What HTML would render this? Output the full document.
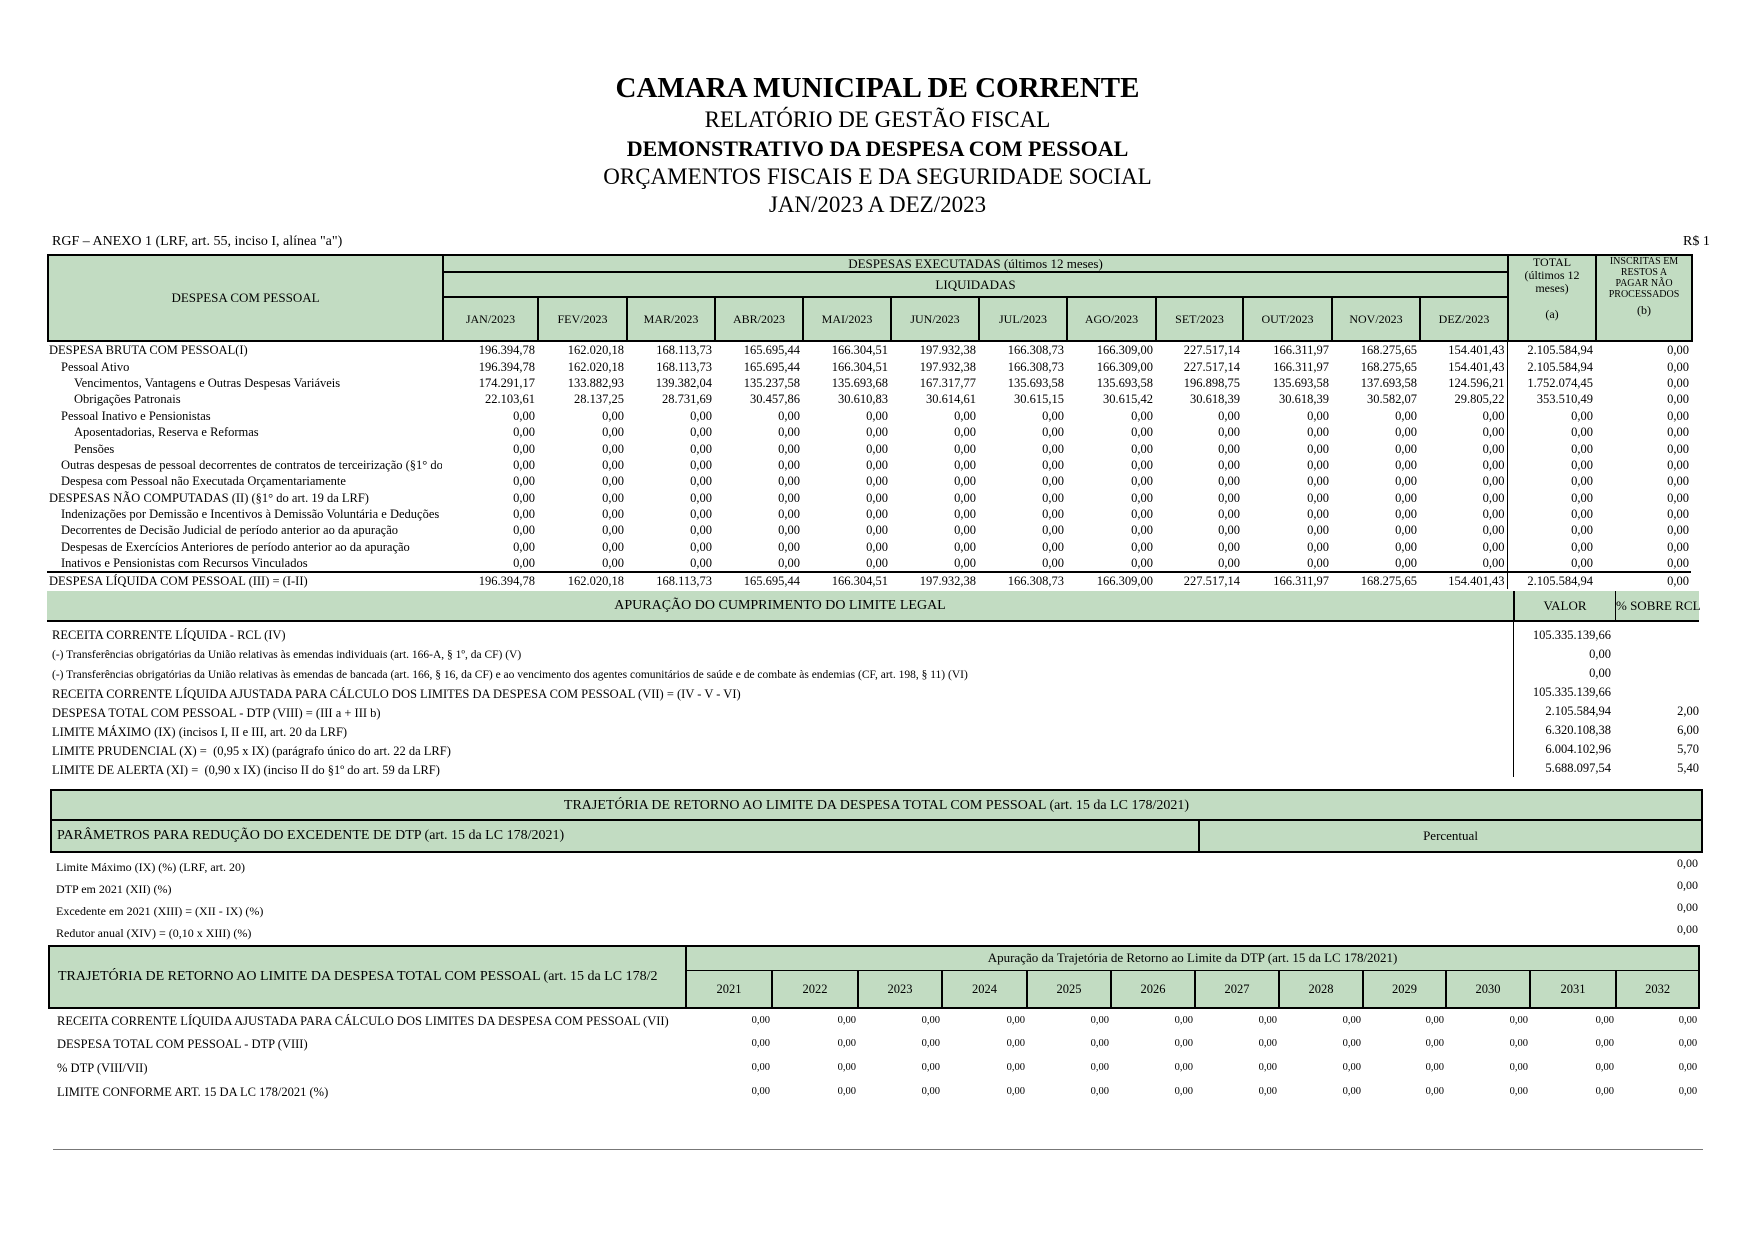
<!DOCTYPE html>
<html><head><meta charset="utf-8">
<style>
body{margin:0;width:1755px;height:1241px;background:#fff;position:relative;font-family:"Liberation Serif",serif;color:#000;overflow:hidden}
.a{position:absolute;white-space:nowrap}
.c{text-align:center;left:0;width:1755px}
table{border-collapse:collapse;table-layout:fixed;position:absolute}
td{padding:0 2px;white-space:nowrap;overflow:hidden;font-size:12.5px;line-height:16px}
.g{background:#c2dcc2}
.h td{font-size:13px}
.r{text-align:right}
.ctr{text-align:center}
</style></head><body>
<div class="a c" style="top:72px;font-size:29px;font-weight:bold">CAMARA MUNICIPAL DE CORRENTE</div>
<div class="a c" style="top:107px;font-size:23px">RELATÓRIO DE GESTÃO FISCAL</div>
<div class="a c" style="top:136px;font-size:22px;font-weight:bold">DEMONSTRATIVO DA DESPESA COM PESSOAL</div>
<div class="a c" style="top:164px;font-size:23px">ORÇAMENTOS FISCAIS E DA SEGURIDADE SOCIAL</div>
<div class="a c" style="top:192px;font-size:23px">JAN/2023 A DEZ/2023</div>
<div class="a" style="left:52px;top:234px;font-size:14px">RGF – ANEXO 1 (LRF, art. 55, inciso I, alínea "a")</div>
<div class="a" style="left:1683px;top:234px;font-size:14px">R$ 1</div>

<!-- header -->
<table class="h" style="left:47px;top:254px;width:1644px">
<colgroup><col style="width:395px"><col style="width:95px"><col style="width:89px"><col style="width:88px"><col style="width:88px"><col style="width:88px"><col style="width:88px"><col style="width:88px"><col style="width:89px"><col style="width:87px"><col style="width:89px"><col style="width:88px"><col style="width:88px"><col style="width:88px"><col style="width:96px"></colgroup>
<tr style="height:17px"><td class="g ctr" rowspan="3" style="border:2px solid #000;border-right:2px solid #000">DESPESA COM PESSOAL</td><td class="g ctr" colspan="12" style="border-top:2px solid #000;border-bottom:2px solid #000;line-height:15px">DESPESAS EXECUTADAS (últimos 12 meses)</td><td class="g ctr" rowspan="3" style="border:2px solid #000;line-height:13px;font-size:12px;vertical-align:top">TOTAL<br>(últimos 12<br>meses)<br><br>(a)</td><td class="g ctr" rowspan="3" style="border:2px solid #000;line-height:11px;font-size:10px;vertical-align:top">INSCRITAS EM<br>RESTOS A<br>PAGAR NÃO<br>PROCESSADOS<br><span style="font-size:12px;line-height:20px">(b)</span></td></tr>
<tr style="height:25px"><td class="g ctr" colspan="12" style="border-bottom:2px solid #000">LIQUIDADAS</td></tr>
<tr style="height:44px"><td class="g ctr" style="border-right:2px solid #000;border-bottom:2px solid #000;font-size:12px">JAN/2023</td><td class="g ctr" style="border-right:2px solid #000;border-bottom:2px solid #000;font-size:12px">FEV/2023</td><td class="g ctr" style="border-right:2px solid #000;border-bottom:2px solid #000;font-size:12px">MAR/2023</td><td class="g ctr" style="border-right:2px solid #000;border-bottom:2px solid #000;font-size:12px">ABR/2023</td><td class="g ctr" style="border-right:2px solid #000;border-bottom:2px solid #000;font-size:12px">MAI/2023</td><td class="g ctr" style="border-right:2px solid #000;border-bottom:2px solid #000;font-size:12px">JUN/2023</td><td class="g ctr" style="border-right:2px solid #000;border-bottom:2px solid #000;font-size:12px">JUL/2023</td><td class="g ctr" style="border-right:2px solid #000;border-bottom:2px solid #000;font-size:12px">AGO/2023</td><td class="g ctr" style="border-right:2px solid #000;border-bottom:2px solid #000;font-size:12px">SET/2023</td><td class="g ctr" style="border-right:2px solid #000;border-bottom:2px solid #000;font-size:12px">OUT/2023</td><td class="g ctr" style="border-right:2px solid #000;border-bottom:2px solid #000;font-size:12px">NOV/2023</td><td class="g ctr" style="border-bottom:2px solid #000;font-size:12px">DEZ/2023</td></tr>
</table>

<!-- data -->
<table style="left:47px;top:342px;width:1644px">
<colgroup><col style="width:395px"><col style="width:95px"><col style="width:89px"><col style="width:88px"><col style="width:88px"><col style="width:88px"><col style="width:88px"><col style="width:88px"><col style="width:89px"><col style="width:87px"><col style="width:89px"><col style="width:88px"><col style="width:88px"><col style="width:88px"><col style="width:96px"></colgroup>
<tr style="height:16.4px"><td>DESPESA BRUTA COM PESSOAL(I)</td><td class="r">196.394,78</td><td class="r">162.020,18</td><td class="r">168.113,73</td><td class="r">165.695,44</td><td class="r">166.304,51</td><td class="r">197.932,38</td><td class="r">166.308,73</td><td class="r">166.309,00</td><td class="r">227.517,14</td><td class="r">166.311,97</td><td class="r">168.275,65</td><td class="r" style="border-right:1px solid #000">154.401,43</td><td class="r">2.105.584,94</td><td class="r">0,00</td></tr>
<tr style="height:16.4px"><td style="padding-left:14px">Pessoal Ativo</td><td class="r">196.394,78</td><td class="r">162.020,18</td><td class="r">168.113,73</td><td class="r">165.695,44</td><td class="r">166.304,51</td><td class="r">197.932,38</td><td class="r">166.308,73</td><td class="r">166.309,00</td><td class="r">227.517,14</td><td class="r">166.311,97</td><td class="r">168.275,65</td><td class="r" style="border-right:1px solid #000">154.401,43</td><td class="r">2.105.584,94</td><td class="r">0,00</td></tr>
<tr style="height:16.4px"><td style="padding-left:27px">Vencimentos, Vantagens e Outras Despesas Variáveis</td><td class="r">174.291,17</td><td class="r">133.882,93</td><td class="r">139.382,04</td><td class="r">135.237,58</td><td class="r">135.693,68</td><td class="r">167.317,77</td><td class="r">135.693,58</td><td class="r">135.693,58</td><td class="r">196.898,75</td><td class="r">135.693,58</td><td class="r">137.693,58</td><td class="r" style="border-right:1px solid #000">124.596,21</td><td class="r">1.752.074,45</td><td class="r">0,00</td></tr>
<tr style="height:16.4px"><td style="padding-left:27px">Obrigações Patronais</td><td class="r">22.103,61</td><td class="r">28.137,25</td><td class="r">28.731,69</td><td class="r">30.457,86</td><td class="r">30.610,83</td><td class="r">30.614,61</td><td class="r">30.615,15</td><td class="r">30.615,42</td><td class="r">30.618,39</td><td class="r">30.618,39</td><td class="r">30.582,07</td><td class="r" style="border-right:1px solid #000">29.805,22</td><td class="r">353.510,49</td><td class="r">0,00</td></tr>
<tr style="height:16.4px"><td style="padding-left:14px">Pessoal Inativo e Pensionistas</td><td class="r">0,00</td><td class="r">0,00</td><td class="r">0,00</td><td class="r">0,00</td><td class="r">0,00</td><td class="r">0,00</td><td class="r">0,00</td><td class="r">0,00</td><td class="r">0,00</td><td class="r">0,00</td><td class="r">0,00</td><td class="r" style="border-right:1px solid #000">0,00</td><td class="r">0,00</td><td class="r">0,00</td></tr>
<tr style="height:16.4px"><td style="padding-left:27px">Aposentadorias, Reserva e Reformas</td><td class="r">0,00</td><td class="r">0,00</td><td class="r">0,00</td><td class="r">0,00</td><td class="r">0,00</td><td class="r">0,00</td><td class="r">0,00</td><td class="r">0,00</td><td class="r">0,00</td><td class="r">0,00</td><td class="r">0,00</td><td class="r" style="border-right:1px solid #000">0,00</td><td class="r">0,00</td><td class="r">0,00</td></tr>
<tr style="height:16.4px"><td style="padding-left:27px">Pensões</td><td class="r">0,00</td><td class="r">0,00</td><td class="r">0,00</td><td class="r">0,00</td><td class="r">0,00</td><td class="r">0,00</td><td class="r">0,00</td><td class="r">0,00</td><td class="r">0,00</td><td class="r">0,00</td><td class="r">0,00</td><td class="r" style="border-right:1px solid #000">0,00</td><td class="r">0,00</td><td class="r">0,00</td></tr>
<tr style="height:16.4px"><td style="padding-left:14px">Outras despesas de pessoal decorrentes de contratos de terceirização (§1° do art.</td><td class="r">0,00</td><td class="r">0,00</td><td class="r">0,00</td><td class="r">0,00</td><td class="r">0,00</td><td class="r">0,00</td><td class="r">0,00</td><td class="r">0,00</td><td class="r">0,00</td><td class="r">0,00</td><td class="r">0,00</td><td class="r" style="border-right:1px solid #000">0,00</td><td class="r">0,00</td><td class="r">0,00</td></tr>
<tr style="height:16.4px"><td style="padding-left:14px">Despesa com Pessoal não Executada Orçamentariamente</td><td class="r">0,00</td><td class="r">0,00</td><td class="r">0,00</td><td class="r">0,00</td><td class="r">0,00</td><td class="r">0,00</td><td class="r">0,00</td><td class="r">0,00</td><td class="r">0,00</td><td class="r">0,00</td><td class="r">0,00</td><td class="r" style="border-right:1px solid #000">0,00</td><td class="r">0,00</td><td class="r">0,00</td></tr>
<tr style="height:16.4px"><td>DESPESAS NÃO COMPUTADAS (II) (§1° do art. 19 da LRF)</td><td class="r">0,00</td><td class="r">0,00</td><td class="r">0,00</td><td class="r">0,00</td><td class="r">0,00</td><td class="r">0,00</td><td class="r">0,00</td><td class="r">0,00</td><td class="r">0,00</td><td class="r">0,00</td><td class="r">0,00</td><td class="r" style="border-right:1px solid #000">0,00</td><td class="r">0,00</td><td class="r">0,00</td></tr>
<tr style="height:16.4px"><td style="padding-left:14px">Indenizações por Demissão e Incentivos à Demissão Voluntária e Deduções Cons</td><td class="r">0,00</td><td class="r">0,00</td><td class="r">0,00</td><td class="r">0,00</td><td class="r">0,00</td><td class="r">0,00</td><td class="r">0,00</td><td class="r">0,00</td><td class="r">0,00</td><td class="r">0,00</td><td class="r">0,00</td><td class="r" style="border-right:1px solid #000">0,00</td><td class="r">0,00</td><td class="r">0,00</td></tr>
<tr style="height:16.4px"><td style="padding-left:14px">Decorrentes de Decisão Judicial de período anterior ao da apuração</td><td class="r">0,00</td><td class="r">0,00</td><td class="r">0,00</td><td class="r">0,00</td><td class="r">0,00</td><td class="r">0,00</td><td class="r">0,00</td><td class="r">0,00</td><td class="r">0,00</td><td class="r">0,00</td><td class="r">0,00</td><td class="r" style="border-right:1px solid #000">0,00</td><td class="r">0,00</td><td class="r">0,00</td></tr>
<tr style="height:16.4px"><td style="padding-left:14px">Despesas de Exercícios Anteriores de período anterior ao da apuração</td><td class="r">0,00</td><td class="r">0,00</td><td class="r">0,00</td><td class="r">0,00</td><td class="r">0,00</td><td class="r">0,00</td><td class="r">0,00</td><td class="r">0,00</td><td class="r">0,00</td><td class="r">0,00</td><td class="r">0,00</td><td class="r" style="border-right:1px solid #000">0,00</td><td class="r">0,00</td><td class="r">0,00</td></tr>
<tr style="height:16.4px"><td style="padding-left:14px">Inativos e Pensionistas com Recursos Vinculados</td><td class="r">0,00</td><td class="r">0,00</td><td class="r">0,00</td><td class="r">0,00</td><td class="r">0,00</td><td class="r">0,00</td><td class="r">0,00</td><td class="r">0,00</td><td class="r">0,00</td><td class="r">0,00</td><td class="r">0,00</td><td class="r" style="border-right:1px solid #000">0,00</td><td class="r">0,00</td><td class="r">0,00</td></tr>
<tr style="height:17px;border-top:2px solid #000"><td>DESPESA LÍQUIDA COM PESSOAL (III) = (I-II)</td><td class="r">196.394,78</td><td class="r">162.020,18</td><td class="r">168.113,73</td><td class="r">165.695,44</td><td class="r">166.304,51</td><td class="r">197.932,38</td><td class="r">166.308,73</td><td class="r">166.309,00</td><td class="r">227.517,14</td><td class="r">166.311,97</td><td class="r">168.275,65</td><td class="r" style="border-right:1px solid #000">154.401,43</td><td class="r">2.105.584,94</td><td class="r">0,00</td></tr>
</table>

<!-- apuração -->
<div class="a g" style="left:47px;top:591px;width:1652px;height:29px;border-bottom:2px solid #000"></div>
<div class="a" style="left:1513px;top:591px;width:2px;height:31px;background:#000"></div>
<div class="a" style="left:1615px;top:591px;width:1px;height:31px;background:#000"></div>
<div class="a" style="left:47px;top:598px;width:1466px;text-align:center;font-size:14px">APURAÇÃO DO CUMPRIMENTO DO LIMITE LEGAL</div>
<div class="a" style="left:1515px;top:598px;width:100px;text-align:center;font-size:13px">VALOR</div>
<div class="a" style="left:1616px;top:598px;width:84px;text-align:center;font-size:13px">% SOBRE RCL</div>
<div class="a" style="left:1513px;top:622px;width:1px;height:155px;background:#000"></div>
<div style="position:absolute;left:52px;top:626px;font-size:12.5px;line-height:19px">
RECEITA CORRENTE LÍQUIDA - RCL (IV)<br>
<span style="font-size:11.5px">(-) Transferências obrigatórias da União relativas às emendas individuais (art. 166-A, § 1º, da CF) (V)</span><br>
<span style="font-size:11.5px">(-) Transferências obrigatórias da União relativas às emendas de bancada (art. 166, § 16, da CF) e ao vencimento dos agentes comunitários de saúde e de combate às endemias (CF, art. 198, § 11) (VI)</span><br>
RECEITA CORRENTE LÍQUIDA AJUSTADA PARA CÁLCULO DOS LIMITES DA DESPESA COM PESSOAL (VII) = (IV - V - VI)<br>
DESPESA TOTAL COM PESSOAL - DTP (VIII) = (III a + III b)<br>
LIMITE MÁXIMO (IX) (incisos I, II e III, art. 20 da LRF)<br>
LIMITE PRUDENCIAL (X) =&nbsp; (0,95 x IX) (parágrafo único do art. 22 da LRF)<br>
LIMITE DE ALERTA (XI) =&nbsp; (0,90 x IX) (inciso II do §1º do art. 59 da LRF)</div>
<div style="position:absolute;left:1515px;width:96px;top:626px;font-size:12.5px;line-height:19px;text-align:right">105.335.139,66<br>0,00<br>0,00<br>105.335.139,66<br>2.105.584,94<br>6.320.108,38<br>6.004.102,96<br>5.688.097,54</div>
<div style="position:absolute;left:1616px;width:83px;top:626px;font-size:12.5px;line-height:19px;text-align:right"><br><br><br><br>2,00<br>6,00<br>5,70<br>5,40</div>

<!-- trajetória params -->
<div class="a g" style="left:50px;top:789px;width:1649px;height:60px;border:2px solid #000"></div>
<div class="a" style="left:50px;top:819px;width:1653px;height:2px;background:#000"></div>
<div class="a" style="left:1198px;top:821px;width:2px;height:30px;background:#000"></div>
<div class="a" style="left:52px;top:798px;width:1649px;text-align:center;font-size:14px">TRAJETÓRIA DE RETORNO AO LIMITE DA DESPESA TOTAL COM PESSOAL (art. 15 da LC 178/2021)</div>
<div class="a" style="left:57px;top:828px;font-size:14px">PARÂMETROS PARA REDUÇÃO DO EXCEDENTE DE DTP (art. 15 da LC 178/2021)</div>
<div class="a" style="left:1200px;top:828px;width:501px;text-align:center;font-size:13px">Percentual</div>
<div style="position:absolute;left:56px;top:856px;font-size:12px;line-height:22px">Limite Máximo (IX) (%) (LRF, art. 20)<br>DTP em 2021 (XII) (%)<br>Excedente em 2021 (XIII) = (XII - IX) (%)<br>Redutor anual (XIV) = (0,10 x XIII) (%)</div>
<div style="position:absolute;left:1590px;width:108px;top:852px;font-size:12px;line-height:22px;text-align:right">0,00<br>0,00<br>0,00<br>0,00</div>

<!-- trajetória years -->
<table style="left:48px;top:945px;width:1652px">
<colgroup><col style="width:637px"><col style="width:86px"><col style="width:86px"><col style="width:84px"><col style="width:85px"><col style="width:84px"><col style="width:84px"><col style="width:84px"><col style="width:84px"><col style="width:83px"><col style="width:84px"><col style="width:86px"><col style="width:83px"></colgroup>
<tr style="height:24px"><td class="g" rowspan="2" style="border:2px solid #000;font-size:14px;padding-left:8px">TRAJETÓRIA DE RETORNO AO LIMITE DA DESPESA TOTAL COM PESSOAL (art. 15 da LC 178/2</td><td class="g ctr" colspan="12" style="border-top:2px solid #000;border-right:2px solid #000;border-bottom:1px solid #000;font-size:13px">Apuração da Trajetória de Retorno ao Limite da DTP (art. 15 da LC 178/2021)</td></tr>
<tr style="height:38px"><td class="g ctr" style="border-right:2px solid #000;border-bottom:2px solid #000">2021</td><td class="g ctr" style="border-right:2px solid #000;border-bottom:2px solid #000">2022</td><td class="g ctr" style="border-right:2px solid #000;border-bottom:2px solid #000">2023</td><td class="g ctr" style="border-right:2px solid #000;border-bottom:2px solid #000">2024</td><td class="g ctr" style="border-right:2px solid #000;border-bottom:2px solid #000">2025</td><td class="g ctr" style="border-right:2px solid #000;border-bottom:2px solid #000">2026</td><td class="g ctr" style="border-right:2px solid #000;border-bottom:2px solid #000">2027</td><td class="g ctr" style="border-right:2px solid #000;border-bottom:2px solid #000">2028</td><td class="g ctr" style="border-right:2px solid #000;border-bottom:2px solid #000">2029</td><td class="g ctr" style="border-right:2px solid #000;border-bottom:2px solid #000">2030</td><td class="g ctr" style="border-right:2px solid #000;border-bottom:2px solid #000">2031</td><td class="g ctr" style="border-right:2px solid #000;border-bottom:2px solid #000">2032</td></tr>
<tr style="height:24px"><td style="padding-left:8px;font-size:12.5px">RECEITA CORRENTE LÍQUIDA AJUSTADA PARA CÁLCULO DOS LIMITES DA DESPESA COM PESSOAL (VII)</td><td class="r" style="font-size:10.5px">0,00</td><td class="r" style="font-size:10.5px">0,00</td><td class="r" style="font-size:10.5px">0,00</td><td class="r" style="font-size:10.5px">0,00</td><td class="r" style="font-size:10.5px">0,00</td><td class="r" style="font-size:10.5px">0,00</td><td class="r" style="font-size:10.5px">0,00</td><td class="r" style="font-size:10.5px">0,00</td><td class="r" style="font-size:10.5px">0,00</td><td class="r" style="font-size:10.5px">0,00</td><td class="r" style="font-size:10.5px">0,00</td><td class="r" style="font-size:10.5px">0,00</td></tr>
<tr style="height:24px"><td style="padding-left:8px;font-size:12.5px">DESPESA TOTAL COM PESSOAL - DTP (VIII)</td><td class="r" style="font-size:10.5px">0,00</td><td class="r" style="font-size:10.5px">0,00</td><td class="r" style="font-size:10.5px">0,00</td><td class="r" style="font-size:10.5px">0,00</td><td class="r" style="font-size:10.5px">0,00</td><td class="r" style="font-size:10.5px">0,00</td><td class="r" style="font-size:10.5px">0,00</td><td class="r" style="font-size:10.5px">0,00</td><td class="r" style="font-size:10.5px">0,00</td><td class="r" style="font-size:10.5px">0,00</td><td class="r" style="font-size:10.5px">0,00</td><td class="r" style="font-size:10.5px">0,00</td></tr>
<tr style="height:24px"><td style="padding-left:8px;font-size:12.5px">% DTP (VIII/VII)</td><td class="r" style="font-size:10.5px">0,00</td><td class="r" style="font-size:10.5px">0,00</td><td class="r" style="font-size:10.5px">0,00</td><td class="r" style="font-size:10.5px">0,00</td><td class="r" style="font-size:10.5px">0,00</td><td class="r" style="font-size:10.5px">0,00</td><td class="r" style="font-size:10.5px">0,00</td><td class="r" style="font-size:10.5px">0,00</td><td class="r" style="font-size:10.5px">0,00</td><td class="r" style="font-size:10.5px">0,00</td><td class="r" style="font-size:10.5px">0,00</td><td class="r" style="font-size:10.5px">0,00</td></tr>
<tr style="height:24px"><td style="padding-left:8px;font-size:12.5px">LIMITE CONFORME ART. 15 DA LC 178/2021 (%)</td><td class="r" style="font-size:10.5px">0,00</td><td class="r" style="font-size:10.5px">0,00</td><td class="r" style="font-size:10.5px">0,00</td><td class="r" style="font-size:10.5px">0,00</td><td class="r" style="font-size:10.5px">0,00</td><td class="r" style="font-size:10.5px">0,00</td><td class="r" style="font-size:10.5px">0,00</td><td class="r" style="font-size:10.5px">0,00</td><td class="r" style="font-size:10.5px">0,00</td><td class="r" style="font-size:10.5px">0,00</td><td class="r" style="font-size:10.5px">0,00</td><td class="r" style="font-size:10.5px">0,00</td></tr>
</table>

<div class="a" style="left:53px;top:1149px;width:1650px;height:1px;background:#777"></div>
</body></html>
